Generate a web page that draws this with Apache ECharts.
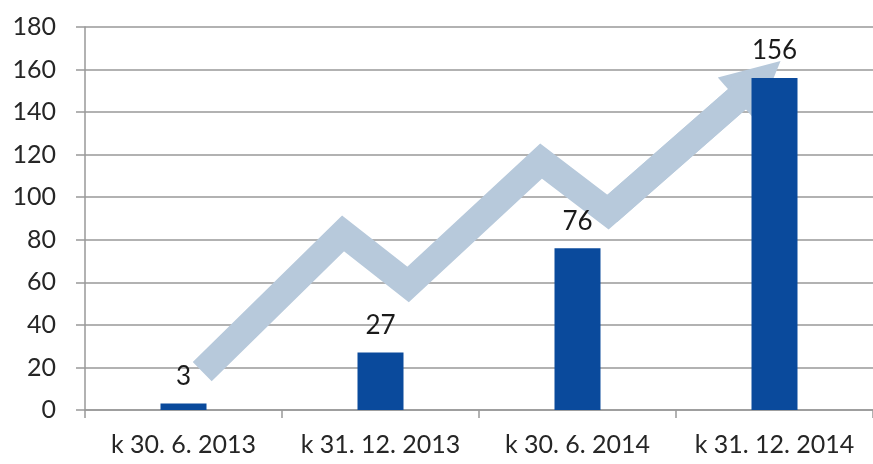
<!DOCTYPE html>
<html>
<head>
<meta charset="utf-8">
<script src="https://cdn.jsdelivr.net/npm/echarts@6/dist/echarts.min.js"></script>
<style>
  html, body { margin: 0; padding: 0; background: #fff; }
  #chart { width: 873px; height: 464px; }
</style>
</head>
<body>
<div id="chart"></div>
<script>
// data
const categories = ["k 30. 6. 2013", "k 31. 12. 2013", "k 30. 6. 2014", "k 31. 12. 2014"];
const values = [3, 27, 76, 156];
// decorative zigzag arrow, in [category index, value] units
const arrowPath = [[0.095, 18], [0.81, 83], [1.14, 59], [1.815, 117], [2.155, 93], [2.92, 155]];
const arrowHead = [[2.155, 93], [2.92, 155]];

const chart = echarts.init(document.getElementById("chart"));
const font = "Lato, 'Open Sans', sans-serif";

const option = {
  backgroundColor: "#fff",
  animation: false,
  grid: { left: 85, right: -10, top: 27, bottom: 54 },
  xAxis: [
    {
      type: "category",
      data: categories,
      axisLine: { show: true, lineStyle: { color: "#999", width: 1.5 } },
      axisTick: { show: true, length: 8, lineStyle: { color: "#999", width: 1.5 } },
      axisLabel: { color: "#262626", fontSize: 25, fontFamily: font, margin: 22, interval: 0 },
      splitLine: { show: false },
    },
    {
      type: "value",
      min: -0.5,
      max: 3.5,
      show: false,
    },
  ],
  yAxis: {
    type: "value",
    min: 0,
    max: 180,
    interval: 20,
    axisLine: { show: true, onZero: false, lineStyle: { color: "#999", width: 1.5 } },
    axisTick: { show: true, length: 9, lineStyle: { color: "#999", width: 1.5 } },
    axisLabel: { color: "#262626", fontSize: 25, fontFamily: font, margin: 29 },
    splitLine: { show: true, lineStyle: { color: "#999", width: 1.5 } },
  },
  series: [
    {
      // arrow body
      type: "line",
      xAxisIndex: 1,
      data: arrowPath,
      symbol: "none",
      silent: true,
      z: 1,
      lineStyle: { color: "#b7c9db", width: 27, join: "miter", cap: "butt" },
    },
    {
      // arrow head
      type: "lines",
      coordinateSystem: "cartesian2d",
      xAxisIndex: 1,
      silent: true,
      z: 1,
      symbol: ["none", "triangle"],
      symbolSize: [74, 58],
      lineStyle: { color: "#b7c9db", width: 27, opacity: 1 },
      data: [{ coords: arrowHead }],
    },
    {
      type: "bar",
      data: values,
      barWidth: 46,
      z: 3,
      itemStyle: { color: "#0a4a9c" },
      label: {
        show: true,
        position: "top",
        distance: 14,
        color: "#1a1a1a",
        fontSize: 26,
        fontFamily: font,
      },
    },
  ],
};
chart.setOption(option);
</script>
</body>
</html>
